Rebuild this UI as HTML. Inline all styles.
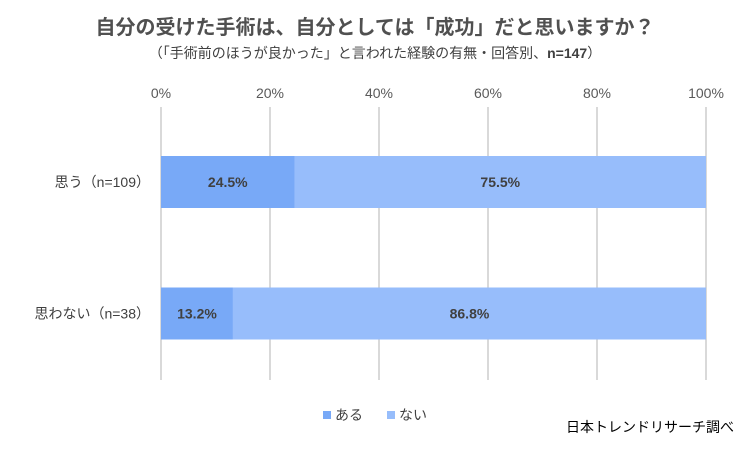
<!DOCTYPE html>
<html><head><meta charset="utf-8"><style>
body{margin:0;background:#fff;font-family:"Liberation Sans","Noto Sans CJK JP",sans-serif;}
svg text{font-family:"Liberation Sans","Noto Sans CJK JP",sans-serif;}
</style></head><body>
<svg id="chart" width="750" height="449">
<text x="375" y="34" text-anchor="middle" font-size="20" font-weight="bold" fill="#505050">自分の受けた手術は、自分としては「成功」だと思いますか？</text>
<text x="375" y="58" text-anchor="middle" font-size="14" fill="#404040">（「手術前のほうが良かった」と言われた経験の有無・回答別、<tspan font-weight="bold">n=147</tspan>）</text>
<g id="grid"></g><g id="bars"></g>
<g>
<rect x="323" y="411" width="8" height="8" fill="#78a9f7"/>
<text x="335" y="420" font-size="14" fill="#404040">ある</text>
<rect x="387" y="411" width="8" height="8" fill="#97bdfb"/>
<text x="399" y="420" font-size="14" fill="#404040">ない</text>
</g>
<text x="734" y="432" text-anchor="end" font-size="14" fill="#000">日本トレンドリサーチ調べ</text>
</svg>
<script>
const categories=["思う（n=109）","思わない（n=38）"];
const aruValues=[24.5,13.2];
const naiValues=[75.5,86.8];
const tickValues=[0,20,40,60,80,100];
const ns="http://www.w3.org/2000/svg";
const x0=161,x1=706;
const xs=v=>x0+(x1-x0)*v/100;
const rowY=[182,313.5],barH=52;
function mk(tag,attrs,parent,text){const e=document.createElementNS(ns,tag);for(const k in attrs)e.setAttribute(k,attrs[k]);if(text!=null)e.textContent=text;parent.appendChild(e);return e;}
const grid=document.getElementById('grid'),bars=document.getElementById('bars');
tickValues.forEach(t=>{
 const l=mk('line',{x1:xs(t),x2:xs(t),y1:107,y2:380,stroke:'#d9d9d9','stroke-width':2},grid);
 
 
 const tx=mk('text',{x:xs(t),y:98,'text-anchor':'middle','font-size':14,fill:'#595959'},grid,t+'%');
 
 
});
categories.forEach((c,i)=>{
 const y=rowY[i]-barH/2;
 const a=mk('rect',{x:xs(0),y:y,width:xs(aruValues[i])-xs(0),height:barH,fill:'#78a9f7'},bars);
 
 
 const n=mk('rect',{x:xs(aruValues[i]),y:y,width:xs(aruValues[i]+naiValues[i])-xs(aruValues[i]),height:barH,fill:'#97bdfb'},bars);
 
 
 const la=mk('text',{x:(xs(0)+xs(aruValues[i]))/2,y:rowY[i]+5,'text-anchor':'middle','font-size':14,'font-weight':'bold',fill:'#404040'},bars,aruValues[i].toFixed(1)+'%');
 
 
 const ln=mk('text',{x:(xs(aruValues[i])+xs(aruValues[i]+naiValues[i]))/2,y:rowY[i]+5,'text-anchor':'middle','font-size':14,'font-weight':'bold',fill:'#404040'},bars,naiValues[i].toFixed(1)+'%');
 
 
 const cl=mk('text',{x:150,y:rowY[i]+5,'text-anchor':'end','font-size':14,fill:'#404040'},bars,c);
 
 
});
</script>
</body></html>
